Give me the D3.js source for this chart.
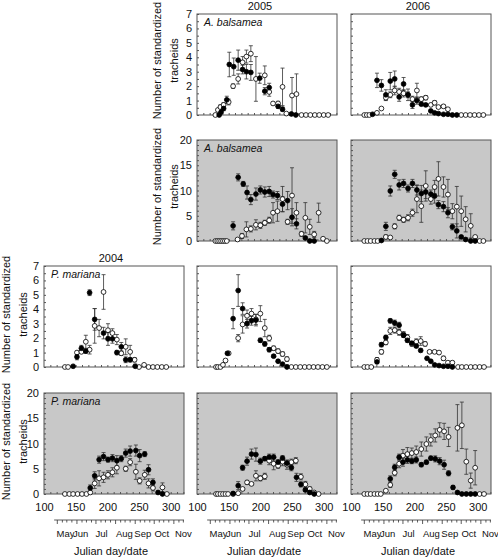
<!DOCTYPE html>
<html><head><meta charset="utf-8">
<script src="https://cdn.jsdelivr.net/npm/d3@7"></script>
<style>
body{margin:0;background:#fff;}
text{font-family:"Liberation Sans",Arial,Helvetica,sans-serif;fill:#111;}
</style></head><body>
<svg id="c" width="498" height="558"></svg>
<script>
// ---------- DATA: [julian day, mean, error] ----------
const abA05_filled=[[135,0,0],[138,0.2,0.1],[142,0.45,0.15],[147,1.05,0.25],[151,3.5,0.85],[158,3.35,0.6],[165,3.8,0.7],[172,3.15,0.3],[178,3.0,0.5],[185,2.95,0.55],[199,2.55,0.35],[207,1.65,0.25],[214,1.9,0.3],[228,0.6,0.15],[235,0.4,0.15],[249,0.07,0.05],[256,0,0]];
const abA05_open=[[129,0,0],[133,0.35,0.1],[137,0.55,0.15],[142,0.7,0.15],[150,0.9,0.2],[157,2.0,0.15],[165,2.5,0.35],[172,3.65,0.4],[178,4.05,0.45],[185,4.25,0.55],[193,2.5,1.55],[207,2.75,0.65],[214,1.6,0.3],[220,0.8,0.1],[228,0.8,0.15],[235,1.95,1.3],[241,0.1,0.05],[250,1.35,1.25],[257,1.45,1.4],[265,0,0],[272,0,0],[279,0,0],[286,0,0],[293,0,0],[300,0,0],[307,0,0]];
const abA06_filled=[[134,0.05,0],[141,2.4,0.5],[148,2.05,0.4],[155,1.4,0.35],[162,2.35,0.6],[169,2.5,0.55],[176,1.25,0.3],[183,2.15,0.45],[190,1.4,0.4],[197,0.7,0.25],[204,1.0,0.25],[211,0.75,0.1],[218,0.7,0.1],[226,0.28,0.05],[232,0.15,0.05],[238,0.1,0],[246,0.05,0],[253,0.05,0],[260,0,0],[267,0,0]];
const abA06_open=[[121,0,0],[125,0,0],[129,0,0],[141,0.15,0],[148,0.45,0.05],[155,1.2,0.2],[162,1.4,0.2],[169,1.7,0.3],[176,1.6,0.25],[183,1.5,0.25],[190,1.4,0.2],[197,1.1,0.2],[204,1.7,0.5],[211,1.1,0.15],[218,1.2,0.15],[226,0.7,0.1],[232,0.85,0.15],[238,0.55,0.1],[246,0.6,0.1],[253,0.4,0.1],[274,0,0],[281,0,0],[288,0,0],[295,0,0],[302,0,0],[309,0,0]];
const abB05_filled=[[157,3.0,0.8],[165,12.6,0.7],[173,11.3,0.5],[179,9.6,1.3],[185,8.2,1.0],[193,9.3,1.2],[200,10.1,0.8],[207,9.7,1.0],[214,9.8,1.0],[220,9.2,0.7],[227,9.0,0.8],[235,7.3,1.5],[243,8.0,1.8],[250,4.7,1.7],[257,3.4,1.0],[271,0.6,0.2],[278,0,0],[285,0,0]];
const abB05_open=[[129,0,0],[132,0,0],[135,0,0],[138,0,0],[141,0,0],[144,0,0],[147,0,0],[164,0.3,0.1],[171,1.0,0.5],[178,2.3,1.5],[185,2.4,0.6],[193,3.2,1.0],[200,3.1,0.6],[207,3.6,0.5],[214,4.1,0.6],[220,5.6,2.0],[227,5.9,2.0],[235,8.3,2.5],[243,3.8,0.5],[250,9.0,5.5],[257,5.6,2.0],[265,1.4,0.5],[271,4.6,3.0],[278,2.8,1.5],[285,1.3,0.6],[292,5.6,1.9],[299,0.45,0.1],[305,0,0]];
const abB06_filled=[[148,0.1,0],[155,2.9,0.8],[162,9.9,1.0],[169,13.2,0.8],[176,11.1,1.0],[183,11.4,0.8],[190,10.4,0.7],[197,11.4,0.8],[204,10.1,1.0],[211,9.4,1.6],[218,9.7,1.3],[226,9.3,0.8],[232,8.9,1.4],[238,7.2,0.8],[246,6.8,1.0],[253,5.6,1.0],[260,2.8,0.6],[267,2.0,1.4],[274,0.8,0.3],[281,0.3,0.1],[289,0,0],[296,0,0]];
const abB06_open=[[121,0,0],[126,0,0],[131,0,0],[137,0,0],[142,0,0],[155,0.8,0.4],[162,0.7,0.2],[169,2.9,0.5],[176,4.6,0.5],[183,4.2,0.5],[190,4.6,0.6],[197,5.6,0.7],[204,8.3,2.7],[211,6.9,3.2],[218,10.9,3.0],[226,8.3,1.0],[232,10.7,1.3],[238,12.3,3.4],[246,10.7,2.0],[253,9.2,3.0],[260,5.9,1.5],[267,6.8,4.0],[274,5.9,3.0],[281,4.3,2.5],[289,3.0,2.4],[296,0.8,0.3],[303,0,0],[309,0,0]];
const pmA04_filled=[[146,0.05,0],[152,0.7,0.2],[159,1.3,0.2],[166,1.1,0.15],[172,5.15,0.2],[180,3.3,0.75],[194,2.35,0.4],[201,1.95,0.45],[208,1.95,0.3],[215,1.0,0.15],[222,1.4,0.3],[229,0.5,0.2],[236,0.5,0.15],[244,0.05,0.15]];
const pmA04_open=[[133,0,0],[138,0,0],[152,1.0,0.1],[159,1.05,0.1],[166,1.75,0.45],[172,1.2,0.3],[180,2.85,1.2],[187,2.7,0.6],[194,5.2,1.2],[201,2.55,0.45],[208,2.35,0.3],[215,1.9,0.35],[222,0.95,0.15],[229,1.4,0.55],[236,1.05,0.45],[243,0.5,0.15],[250,0,0],[258,0.15,0],[265,0,0],[272,0,0],[279,0,0],[286,0,0],[293,0,0]];
const pmA05_filled=[[148,0.95,0.1],[157,3.35,0.7],[165,5.3,1.1],[172,4.05,0.4],[179,3.0,0.3],[186,3.2,0.3],[193,3.25,0.4],[200,1.85,0.15],[207,1.6,0.15],[214,1.2,0.15],[221,0.75,0.1],[228,0.4,0.1],[235,0.2,0.05],[242,0,0.15]];
const pmA05_open=[[130,0,0],[133,0,0],[137,0,0],[141,0.15,0],[145,0.45,0.1],[150,0.95,0.1],[165,2.0,0.25],[172,2.95,0.6],[179,3.55,0.4],[186,3.7,0.35],[193,3.3,0.35],[200,3.7,0.55],[207,2.7,0.6],[214,2.0,0.2],[221,1.3,0.15],[228,1.1,0.15],[235,0.9,0.15],[242,0.55,0.15],[249,0,0],[256,0,0],[263,0,0],[270,0,0],[277,0,0],[284,0,0],[291,0,0],[298,0,0],[305,0,0]];
const pmA06_filled=[[141,0.35,0.1],[148,1.55,0.15],[155,2.05,0.15],[162,3.2,0.15],[169,3.05,0.2],[176,2.9,0.2],[183,2.2,0.15],[189,1.85,0.15],[196,1.65,0.1],[203,1.45,0.1],[210,1.15,0.1],[220,0.6,0.05],[226,0.4,0.05],[232,0.15,0],[239,0.1,0],[246,0.05,0],[253,0.05,0],[260,0,0]];
const pmA06_open=[[121,0,0],[126,0,0],[132,0,0],[141,0.5,0.15],[148,1.05,0.15],[155,1.7,0.15],[162,2.5,0.25],[169,2.55,0.2],[176,2.4,0.2],[183,2.25,0.2],[189,2.05,0.2],[196,1.6,0.15],[203,1.75,0.2],[210,1.8,0.3],[217,1.6,0.15],[224,1.05,0.1],[232,1.05,0.1],[239,1.0,0.1],[246,0.6,0.15],[253,0.3,0.1],[260,0.3,0.1],[269,0,0],[275,0,0],[282,0,0],[289,0,0],[296,0,0],[303,0,0],[310,0,0]];
const pmB04_filled=[[173,1.2,0.6],[180,3.6,0.8],[187,6.8,0.7],[194,7.4,0.8],[201,6.8,0.5],[208,7.1,0.7],[215,6.6,1.0],[222,7.0,0.6],[229,8.1,0.8],[236,8.5,1.0],[245,8.6,1.1],[251,7.6,1.2],[259,7.9,0.5],[265,4.8,1.0],[272,2.3,0.7],[280,0.3,0.1],[287,0,0]];
const pmB04_open=[[133,0,0],[140,0,0],[146,0,0],[153,0,0],[160,0,0],[167,0,0],[173,0.3,0.1],[180,2.1,1.0],[187,3.1,1.5],[194,3.3,1.0],[201,3.8,0.8],[208,4.3,0.9],[215,5.2,1.2],[229,5.0,0.5],[236,6.3,0.7],[245,4.4,1.5],[251,2.6,0.6],[259,3.8,0.9],[265,2.1,0.9],[272,1.2,0.6],[287,1.3,0.9],[294,0,0]];
const pmB05_filled=[[157,0.1,0],[165,1.65,0.8],[172,5.2,0.5],[179,6.5,0.8],[186,7.9,1.0],[193,7.8,1.3],[200,6.5,0.6],[207,7.0,0.4],[214,7.3,0.6],[221,7.3,0.6],[228,6.3,0.5],[235,7.1,0.5],[242,6.1,0.6],[249,5.2,0.6],[257,3.3,0.8],[264,1.9,0.5],[271,0.8,0.3],[278,0.3,0.1],[285,0,0]];
const pmB05_open=[[130,0,0],[133,0,0],[137,0,0],[141,0,0],[145,0,0],[149,0,0],[157,0,0],[165,0.15,0],[172,1.0,0.2],[179,2.3,0.4],[186,2.0,0.2],[193,3.6,1.0],[200,3.1,0.5],[207,3.5,0.6],[214,6.6,0.8],[221,6.0,1.2],[228,5.6,0.5],[235,6.4,0.8],[242,5.8,0.9],[249,6.3,0.6],[256,6.6,0.6],[264,3.4,0.6],[271,1.9,0.6],[278,1.0,0.4],[285,0.3,0.1],[292,0,0]];
const pmB06_filled=[[162,3.0,0.6],[169,5.3,0.6],[176,7.3,0.6],[182,6.3,0.8],[189,6.75,0.7],[196,6.5,0.5],[203,6.75,0.6],[211,5.8,0.4],[219,6.3,0.4],[226,7.1,0.4],[233,6.95,0.6],[240,6.5,0.7],[247,5.8,0.9],[254,4.1,0.5],[261,1.3,0.4],[268,0.3,0.1],[275,0,0],[282,0,0],[289,0,0],[296,0,0]];
const pmB06_open=[[121,0,0],[126,0,0],[131,0,0],[137,0,0],[142,0,0],[147,0,0],[155,0.65,0.1],[162,1.8,0.5],[169,4.2,0.6],[176,6.0,0.8],[182,7.6,1.2],[189,7.9,1.3],[196,8.1,1.0],[203,8.3,1.2],[211,8.9,1.4],[219,9.9,1.4],[226,10.7,1.2],[233,11.6,1.3],[240,12.7,1.4],[247,12.4,1.6],[254,11.3,1.9],[268,13.1,4.6],[275,13.6,4.6],[282,6.4,2.5],[289,2.65,1.5],[296,5.2,3.4],[303,0,0],[310,0,0]];

const years=["2004","2005","2006"];
const xTickLabels=[100,150,200,250,300];
const monthNames=["May","Jun","Jul","Aug","Sep","Oct","Nov"];
const monthLabelDays=[134,158,191,227,256,286,320];
const monthStartDays=[121,152,182,213,244,274,305];
const yLabelLines=["Number of standardized","tracheids"];

// ---------- LAYOUT ----------
const colLeft=[44,197,351], pw=140, rowTop=[14,140,266,393], ph=101;
const xDomain=[100,321];
const rowMax=[7,20,7,20], rowGray=[false,true,false,true];
const panels=[
 {row:0,col:1,label:"A. balsamea",filled:abA05_filled,open:abA05_open},
 {row:0,col:2,label:null,filled:abA06_filled,open:abA06_open},
 {row:1,col:1,label:"A. balsamea",filled:abB05_filled,open:abB05_open},
 {row:1,col:2,label:null,filled:abB06_filled,open:abB06_open},
 {row:2,col:0,label:"P. mariana",filled:pmA04_filled,open:pmA04_open},
 {row:2,col:1,label:null,filled:pmA05_filled,open:pmA05_open},
 {row:2,col:2,label:null,filled:pmA06_filled,open:pmA06_open},
 {row:3,col:0,label:"P. mariana",filled:pmB04_filled,open:pmB04_open},
 {row:3,col:1,label:null,filled:pmB05_filled,open:pmB05_open},
 {row:3,col:2,label:null,filled:pmB06_filled,open:pmB06_open}
];
const FS=10.5;
const svg=d3.select("#c");
const frameCol="#555";
const fmt=d3.format("d");

panels.forEach((p,i)=>{
  const x0=colLeft[p.col], y0=rowTop[p.row];
  const ymax=rowMax[p.row];
  const x=d3.scaleLinear().domain(xDomain).range([x0,x0+pw]);
  const y=d3.scaleLinear().domain([0,ymax]).range([y0+ph,y0]);
  const g=svg.append("g");
  g.append("rect").attr("x",x0).attr("y",y0).attr("width",pw).attr("height",ph)
   .attr("fill",rowGray[p.row]?"#c8c8c8":"#fff").attr("stroke",frameCol).attr("stroke-width",1);
  const clipId="clip"+i;
  svg.append("clipPath").attr("id",clipId).append("rect").attr("x",x0).attr("y",y0-1).attr("width",pw).attr("height",ph+1);
  const minorStep = ymax===7?0.5:1;
  const minor=d3.range(0,ymax+0.001,minorStep);
  const major = ymax===7?d3.range(0,8,1):d3.range(0,21,5);
  const showLabels = (p.row<2&&p.col===1)||(p.row>=2&&p.col===0);
  const ya=g.append("g").attr("transform",`translate(${x0},0)`)
    .call(d3.axisLeft(y).tickValues(minor).tickSize(-2).tickFormat(""));
  ya.select(".domain").remove();
  ya.selectAll("line").attr("stroke",frameCol);
  if(showLabels){
    const yl=g.append("g").attr("transform",`translate(${x0},0)`)
      .call(d3.axisLeft(y).tickValues(major).tickSize(0).tickPadding(5).tickFormat(fmt));
    yl.select(".domain").remove();
    yl.selectAll("text").attr("font-size",FS+0.5).attr("font-family","Liberation Sans, Arial, sans-serif").attr("fill","#111");
  }
  const xa=g.append("g").attr("transform",`translate(0,${y0+ph})`)
    .call(d3.axisBottom(x).tickValues(d3.range(110,321,10)).tickSize(-2).tickFormat(""));
  xa.select(".domain").remove();
  xa.selectAll("line").attr("stroke",frameCol);
  if(p.label){
    g.append("text").attr("x",x0+7).attr("y",y0+12).attr("font-size",FS).attr("font-style","italic").text(p.label);
  }
  const dg=g.append("g").attr("clip-path",`url(#${clipId})`);
  const all=[...p.open,...p.filled];
  all.filter(d=>d[2]>0).forEach(([dd,v,e])=>{
    const cx=x(dd);
    dg.append("line").attr("x1",cx).attr("x2",cx).attr("y1",y(v-e)).attr("y2",y(v+e)).attr("stroke","#333").attr("stroke-width",0.8);
    [v-e,v+e].forEach(w=>dg.append("line").attr("x1",cx-2).attr("x2",cx+2).attr("y1",y(w)).attr("y2",y(w)).attr("stroke","#333").attr("stroke-width",0.8));
  });
  g.append("g").selectAll("circle").data(p.open).join("circle")
   .attr("cx",d=>x(d[0])).attr("cy",d=>y(d[1])).attr("r",2.4).attr("fill","#fff").attr("stroke","#000").attr("stroke-width",0.8);
  g.append("g").selectAll("circle").data(p.filled).join("circle")
   .attr("cx",d=>x(d[0])).attr("cy",d=>y(d[1])).attr("r",2.4).attr("fill","#000").attr("stroke","#000").attr("stroke-width",0.8);
});

function yLabel(cx,cy){
  const t=svg.append("g").attr("transform",`translate(${cx},${cy}) rotate(-90)`);
  t.append("text").attr("text-anchor","middle").attr("y",-8).attr("dominant-baseline","central").attr("font-size",FS+0.5).text(yLabelLines[0]);
  t.append("text").attr("text-anchor","middle").attr("y",9).attr("dominant-baseline","central").attr("font-size",FS+0.5).text(yLabelLines[1]);
}
yLabel(165,rowTop[0]+ph/2-4);
yLabel(165,rowTop[1]+ph/2-4);
yLabel(14,rowTop[2]+ph/2-2);
yLabel(14,rowTop[3]+ph/2-2);

svg.append("text").attr("x",colLeft[1]+pw/2-7).attr("y",10).attr("text-anchor","middle").attr("font-size",FS+0.5).text(years[1]);
svg.append("text").attr("x",colLeft[2]+pw/2-3).attr("y",10).attr("text-anchor","middle").attr("font-size",FS+0.5).text(years[2]);
svg.append("text").attr("x",colLeft[0]+pw/2-3).attr("y",262).attr("text-anchor","middle").attr("font-size",FS+0.5).text(years[0]);

[0,1,2].forEach(c=>{
  const x0=colLeft[c];
  const x=d3.scaleLinear().domain(xDomain).range([x0,x0+pw]);
  const la=svg.append("g").attr("transform",`translate(0,${rowTop[3]+ph})`)
    .call(d3.axisBottom(x).tickValues(xTickLabels).tickSize(0).tickPadding(9).tickFormat(fmt));
  la.select(".domain").remove();
  la.selectAll("text").attr("font-size",FS+0.5).attr("font-family","Liberation Sans, Arial, sans-serif").attr("fill","#111");
  const my=520;
  const minorDays=[];
  monthStartDays.forEach(s=>{[8,15,23].forEach(o=>{if(s+o<=321)minorDays.push(s+o);});});
  const ma=svg.append("g").attr("transform",`translate(0,${my})`);
  ma.append("line").attr("x1",x(116)).attr("x2",x(321)).attr("stroke","#333").attr("stroke-width",0.8);
  ma.selectAll("line.t").data(monthStartDays.concat(minorDays)).join("line").attr("class","t")
    .attr("x1",d=>x(d)).attr("x2",d=>x(d)).attr("y1",0).attr("y2",d=>monthStartDays.includes(d)?4:2.5)
    .attr("stroke","#333").attr("stroke-width",0.8);
  svg.append("g").selectAll("text").data(monthNames).join("text")
    .attr("x",(d,i)=>x(monthLabelDays[i])).attr("y",537).attr("text-anchor","middle").attr("font-size",9.5).text(d=>d);
  svg.append("text").attr("x",x0+pw/2-3).attr("y",555).attr("text-anchor","middle").attr("font-size",FS+0.5).text("Julian day/date");
});
</script></body></html>
